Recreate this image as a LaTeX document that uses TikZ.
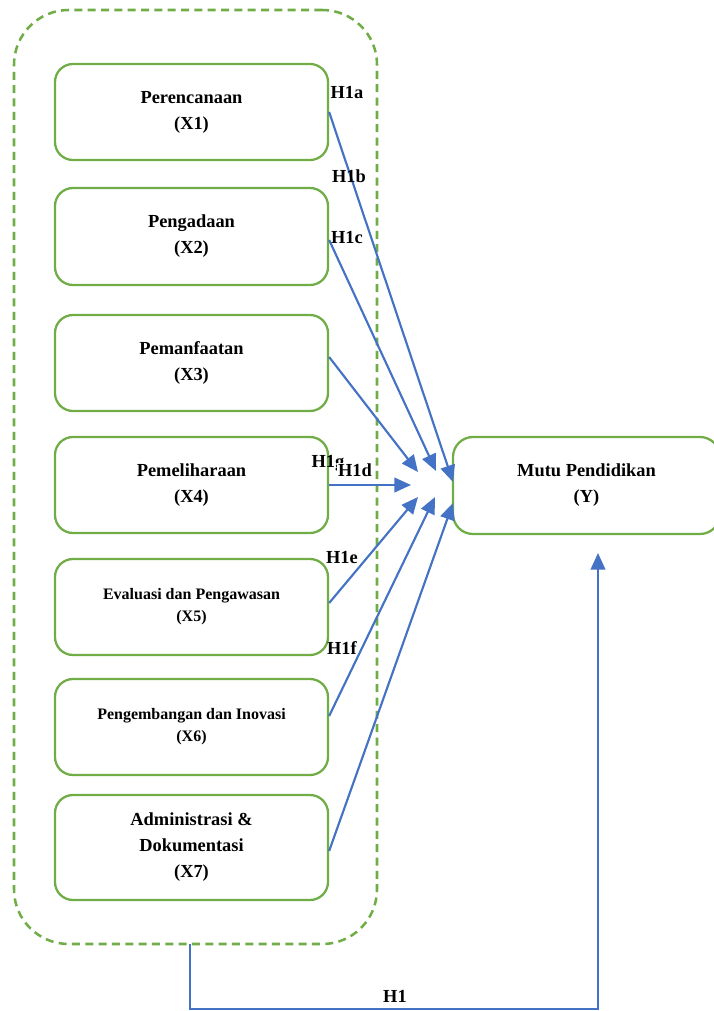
\documentclass[tikz,border=0pt]{standalone}
\usepackage{fontspec}
\setmainfont{Liberation Serif}
\usetikzlibrary{arrows.meta}

\definecolor{boxgreen}{RGB}{112,173,71}
\definecolor{linkblue}{RGB}{68,114,196}

\tikzset{
	box/.style={draw=boxgreen, line width=1.7pt, rounded corners=13.5pt,
		minimum width=204.75pt, minimum height=72pt, align=center,
		font=\fontsize{13.8}{19.5}\selectfont\bfseries},
	smallbox/.style={box, font=\fontsize{12}{16.5}\selectfont\bfseries},
	link/.style={draw=linkblue, line width=1.6pt, -{Triangle[length=12.5pt,width=11pt]}},
	hlabel/.style={inner sep=0.5pt, font=\fontsize{13.8}{16}\selectfont\bfseries}
}

\begin{document}
\begin{tikzpicture}[x=0.75pt,y=-0.75pt]
	\useasboundingbox (0,0) rectangle (714,1011);

	% dashed frame round the X boxes
	\node[draw=boxgreen, line width=1.9pt, dash pattern=on 6pt off 4pt,
		rounded corners=41pt, minimum width=272.25pt, minimum height=700.5pt]
		(frame) at (195.5,477) {};

	% X boxes
	\node[box] (x1) at (191.5,112) {Perencanaan\\(X1)};
	\node[box, minimum height=72.75pt] (x2) at (191.5,236.5) {Pengadaan\\(X2)};
	\node[box] (x3) at (191.5,363) {Pemanfaatan\\(X3)};
	\node[box] (x4) at (191.5,485) {Pemeliharaan\\(X4)};
	\node[smallbox] (x5) at (191.5,607) {Evaluasi dan Pengawasan\\(X5)};
	\node[smallbox] (x6) at (191.5,727) {Pengembangan dan Inovasi\\(X6)};
	\node[box, minimum height=78.75pt] (x7) at (191.5,847.5) {Administrasi \&\\Dokumentasi\\(X7)};

	% Y box
	\node[box, minimum width=200.25pt, minimum height=72.75pt, rounded corners=15pt]
		(y) at (586.5,485.5) {Mutu Pendidikan\\(Y)};

	% arrow tips in front of Y
	\coordinate (t1) at (453,482);
	\coordinate (t2) at (436,471);
	\coordinate (t3) at (418,472);
	\coordinate (t4) at (411,485);
	\coordinate (t5) at (418,497);
	\coordinate (t6) at (435,497);
	\coordinate (t7) at (453,503);

	% links X -> Y
	\foreach \n/\s in {1/0, 2/-2.6, 3/4.5, 4/0, 5/3, 6/8.25, 7/-2.6}
	\draw[link] ([yshift=\s pt]x\n.east) -- (t\n);

	% labels
	\node[hlabel] (h1a) at (347,93) {H1a};
	\node[hlabel] (h1b) at (349,176) {H1b};
	\node[hlabel] (h1c) at (347,238) {H1c};
	\node[hlabel] (h1g) at (328,463) {H1g};
	\node[hlabel, fill=white] (h1d) at (355,470) {H1d};
	\node[hlabel] (h1e) at (342,558) {H1e};
	\node[hlabel] (h1f) at (342,648) {H1f};

	% H1 link from frame to Y
	\coordinate (h1start) at (190,944);
	\coordinate (h1end) at (598,553);
	\draw[link] (h1start) -- (190,1009) -| (h1end);
	\node[hlabel] (h1) at (395,996) {H1};
\end{tikzpicture}
\end{document}
